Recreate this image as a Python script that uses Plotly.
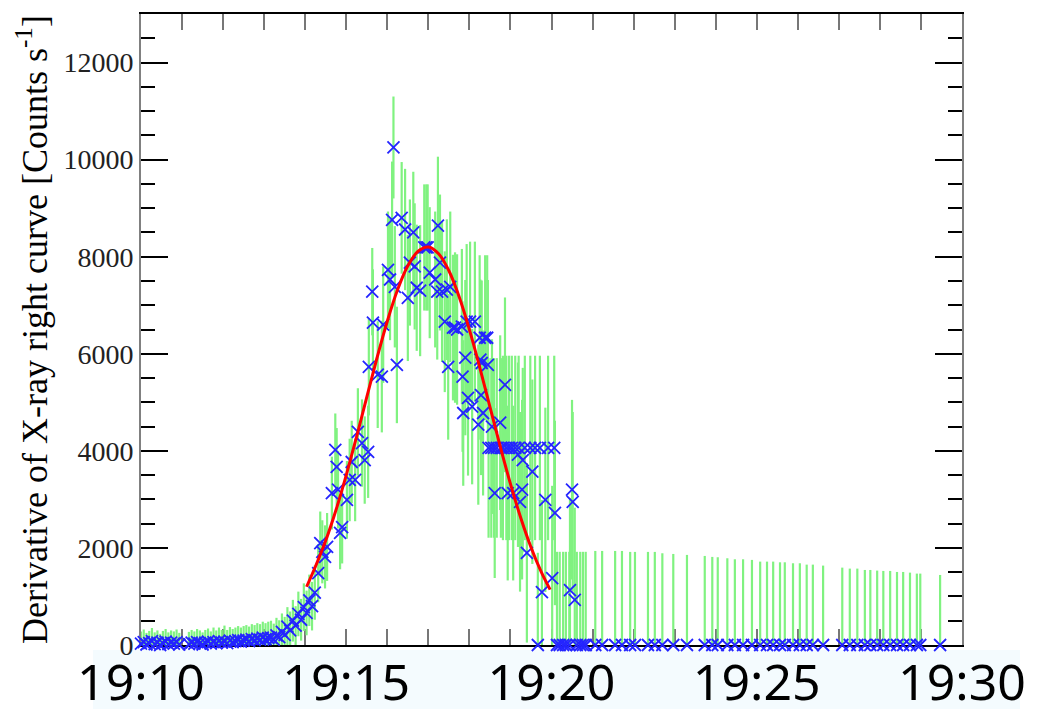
import pandas as pd
import plotly.graph_objects as go

# ---------------- data (seconds after 19:10:00, counts/s, error) ----------------
t_early = [0, 4, 8, 12, 16, 20, 24, 28, 32, 36, 40, 44, 48, 52, 56,
           70, 74, 78, 82, 86, 90, 94, 98, 102, 106, 110, 114, 118, 122, 126,
           130, 134, 138, 142, 146, 150, 154, 158, 162, 166, 170, 174, 178, 182, 186]
v_early = [30, 60, 10, 40, 80, 20, 50, 0, 40, 70, 20, 50, 30, 60, 10,
           20, 50, 30, 60, 40, 10, 50, 70, 30, 60, 40, 80, 50, 70, 40,
           90, 60, 80, 100, 70, 90, 110, 80, 120, 100, 130, 110, 150, 120, 140]
e_early = [250, 260, 240, 250, 270, 240, 250, 230, 250, 260, 240, 250, 250, 260, 240,
           250, 260, 250, 270, 260, 250, 260, 270, 250, 300, 260, 280, 260, 330, 270,
           280, 270, 280, 290, 290, 300, 300, 300, 310, 310, 320, 320, 330, 330, 340]

t_rise = [190, 194, 198, 202, 206, 210, 214, 218, 222, 226, 230, 234, 238, 242, 246, 250, 254]
v_rise = [150, 110, 200, 160, 270, 210, 380, 300, 500, 400, 640, 520, 780, 660, 920, 800, 1080]
e_rise = [350, 330, 360, 350, 380, 370, 400, 390, 430, 400, 460, 430, 490, 460, 530, 500, 560]

t_main = [259, 262, 265, 269, 272, 279, 284, 286, 288, 291, 294, 301, 305, 308, 313, 317, 323, 327, 332, 333,
          338, 339, 346, 352, 354, 361, 364, 367, 369, 371, 374, 381, 386, 390, 393, 398, 400, 403, 408, 414,
          417, 419, 422, 430, 433, 434, 437, 440, 444, 447, 449, 452, 456, 459, 462, 469, 470, 471, 474, 476,
          478, 481, 484, 488, 493, 495, 496, 497, 498, 500, 503, 506, 507, 508, 512, 513, 516, 517, 520, 525,
          526, 529, 532, 534, 536, 538, 542, 544, 547, 551, 552, 554, 557, 558, 561, 564, 569, 572, 576, 580,
          583, 586, 591, 595, 601, 604, 605, 608, 612, 617, 621, 626, 627, 630, 631, 634, 637, 642, 646, 650]
v_main = [1480, 2100, 1920, 1815, 2020, 3130, 4020, 3670, 3200, 2310, 2430, 2990, 3400, 3770, 3400, 4390, 4160, 3810, 3980, 5730,
          7280, 6640, 5570, 5530, 6600, 7730, 7530, 8760, 10250, 7380, 5770, 8800, 8560, 7150, 7880, 8500, 7800, 7360, 7300, 8190,
          8190, 8190, 7670, 7530, 7280, 8640, 7880, 7280, 6660, 7320, 5730, 7380, 6540, 6540, 6500, 6560, 5530, 4780, 5920, 6660,
          5090, 6660, 4910, 6660, 4540, 6330, 5880, 5150, 5810, 4780, 6330, 6330, 5770, 4060, 4060, 4500, 4060, 3130, 4060, 4580,
          4060, 4060, 5360, 4060, 3130, 4060, 4060, 3130, 4060, 3920, 4060, 2950, 3200, 3810, 4060, 1900, 4060, 3570, 4060, 0,
          4060, 1090, 2990, 4060, 1380, 4060, 2720, 0, 0, 0, 0, 0, 1130, 3200, 2950, 930, 0, 0, 0, 0]
e_main = [600, 650, 650, 650, 700, 750, 750, 800, 800, 750, 750, 800, 850, 850, 850, 900, 900, 900, 950, 1000,
          900, 1100, 1100, 1150, 1200, 1200, 1250, 1200, 1050, 1250, 1200, 1150, 1250, 1300, 1300, 1250, 1300, 1300, 1350, 1300,
          1300, 1300, 1350, 1400, 1400, 1420, 1400, 1450, 1450, 1450, 1500, 1550, 1500, 1550, 1550, 1600, 1550, 1500, 1600, 1600,
          1600, 1650, 1600, 1650, 1650, 1700, 1650, 1650, 1700, 1700, 1700, 1700, 1750, 1850, 1850, 1800, 1850, 1750, 1850, 1800,
          1850, 1900, 1800, 1900, 1800, 1900, 1900, 1800, 1900, 1900, 1900, 1850, 1850, 1900, 1900, 1850, 1900, 1900, 1900, 1900,
          1900, 1900, 1900, 1900, 1900, 1900, 1900, 1920, 1920, 1920, 1920, 1920, 1900, 1850, 1850, 1900, 1920, 1920, 1920, 1920]

t_late = [664, 674, 693, 703, 715, 722, 741, 751, 762, 778, 798, 824, 835, 843, 857, 868, 880, 893, 905, 915,
          924, 934, 941, 953, 963, 973, 982, 997, 1025, 1036, 1047, 1058, 1066, 1076, 1085, 1095, 1105, 1114, 1124, 1134,
          1139, 1168]
v_late = [0] * len(t_late)
e_late = [1938, 1938, 1938, 1938, 1918, 1918, 1918, 1918, 1890, 1876, 1856, 1835, 1815, 1808, 1787, 1766, 1766, 1753, 1718, 1718,
          1718, 1704, 1704, 1684, 1684, 1656, 1656, 1636, 1594, 1574, 1574, 1546, 1546, 1533, 1526, 1526, 1505, 1505, 1491, 1471,
          1471, 1443]

fit_t = [242, 255, 270, 285, 300, 315, 330, 345, 360, 375, 390, 405, 420, 435, 450, 465, 480,
         495, 510, 525, 540, 555, 570, 585, 598]
fit_v = [1200, 1618, 2152, 2782, 3501, 4285, 5105, 5918, 6671, 7318, 7812, 8113, 8200, 8060, 7710, 7176, 6498,
         5727, 4908, 4093, 3321, 2623, 2015, 1505, 1140]

y_title = "Derivative of X-ray right curve [Counts s<sup>-1</sup>]"

# ---------------- build ----------------
base = pd.Timestamp("2000-01-01 19:10:00")


def to_time(secs):
    return [base + pd.Timedelta(seconds=s) for s in secs]


t_all = t_early + t_rise + t_main + t_late
v_all = v_early + v_rise + v_main + v_late
e_all = e_early + e_rise + e_main + e_late
e_minus = [min(e, v) for v, e in zip(v_all, e_all)]

fig = go.Figure()
fig.add_trace(go.Scatter(
    x=to_time(t_all), y=v_all, mode="markers",
    marker=dict(symbol="x-thin", size=12, color="#2424ff",
                line=dict(width=1.8, color="#2424ff")),
    error_y=dict(type="data", symmetric=False, array=e_all, arrayminus=e_minus,
                 color="rgb(128,242,128)", thickness=2.2, width=0),
    cliponaxis=False, showlegend=False, hoverinfo="x+y"))
fig.add_trace(go.Scatter(
    x=to_time(fit_t), y=fit_v, mode="lines",
    line=dict(color="#ff0000", width=3, shape="spline"),
    showlegend=False))

fig.add_shape(type="rect", xref="paper", yref="paper",
              x0=-0.0585, x1=1.0707, y0=-0.0079, y1=-0.1015,
              fillcolor="#f4fbfe", line=dict(width=0), layer="below")

# the page body adds an 8 px offset, so the figure is sized 8 px smaller
fig.update_layout(
    width=1031, height=701,
    margin=dict(l=133, r=77, t=6, b=64),
    paper_bgcolor="white", plot_bgcolor="white",
    xaxis=dict(
        type="date", automargin=False,
        range=[base, base + pd.Timedelta(minutes=20)],
        tick0=base, dtick=300000, tickformat="%H:%M",
        tickfont=dict(family="Noto Sans", size=50, color="black"),
        ticklabelstandoff=-7,
        ticks="inside", ticklen=16, tickwidth=2, tickcolor="#777777",
        minor=dict(dtick=60000, ticks="inside", ticklen=16, tickwidth=2,
                   tickcolor="#777777", showgrid=False),
        showline=True, linecolor="black", linewidth=2, mirror="allticks",
        showgrid=False, zeroline=False, layer="below traces",
    ),
    yaxis=dict(
        range=[0, 13000], tick0=0, dtick=2000, tickformat="d", automargin=False,
        tickfont=dict(family="Liberation Serif", size=28, color="#222222"),
        ticks="inside", ticklen=27, tickwidth=1.5, tickcolor="black",
        minor=dict(dtick=500, ticks="inside", ticklen=14, tickwidth=1.5,
                   tickcolor="black", showgrid=False),
        showline=True, linecolor="#808080", linewidth=2, mirror="allticks",
        showgrid=False, zeroline=False, layer="below traces",
        title=dict(text=y_title, standoff=5,
                   font=dict(family="Liberation Serif", size=36, color="black")),
    ),
)

fig.write_html("out.html")
